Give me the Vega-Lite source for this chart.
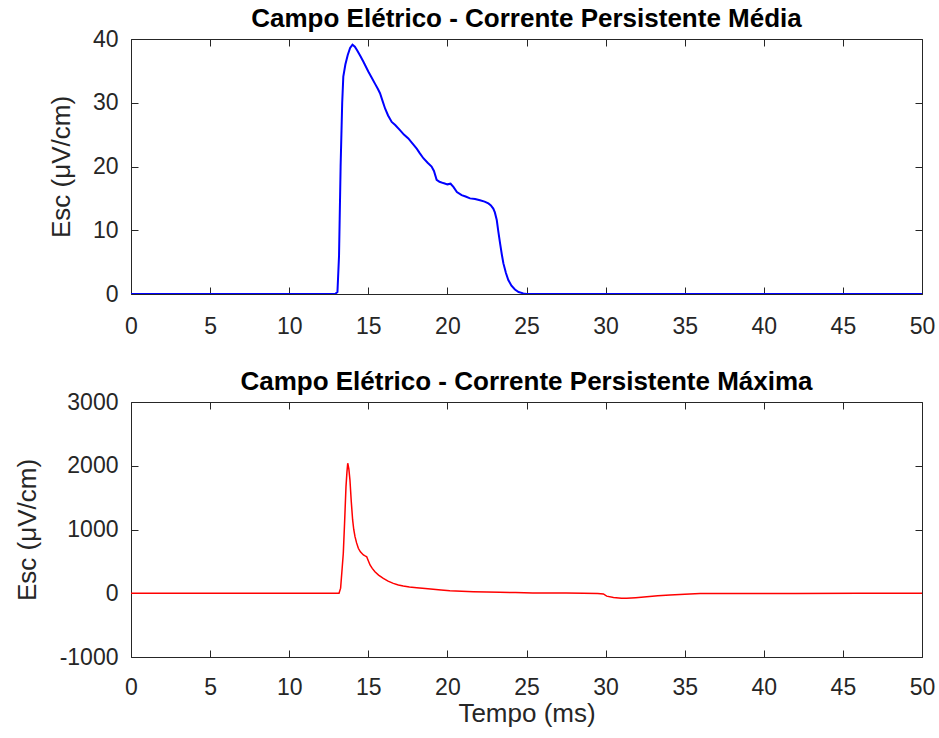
{
  "$schema": "https://vega.github.io/schema/vega-lite/v6.json",
  "background": "white",
  "padding": {"left": 13, "top": 5, "right": 5, "bottom": 5},
  "spacing": 108,
  "bounds": "flush",
  "config": {
    "font": "Liberation Sans",
    "view": {"stroke": "#262626", "strokeWidth": 1},
    "axis": {
      "grid": false,
      "domain": false,
      "labelFont": "Liberation Sans",
      "titleFont": "Liberation Sans",
      "labelFontSize": 23,
      "titleFontSize": 26,
      "titleFontWeight": "normal",
      "labelColor": "#262626",
      "titleColor": "#262626",
      "tickColor": "#262626",
      "tickSize": -7,
      "labelFlush": false,
      "labelOverlap": false,
      "labelExpr": "'' + datum.value"
    },
    "title": {"font": "Liberation Sans", "fontSize": 26, "fontWeight": "bold", "color": "#000000", "anchor": "middle", "offset": -4}
  },
  "datasets": {
    "media": [
      {"t": 0, "e": 0}, {"t": 5, "e": 0}, {"t": 10, "e": 0}, {"t": 12.9, "e": 0}, {"t": 13.05, "e": 0.3}, {"t": 13.15, "e": 6},
      {"t": 13.25, "e": 20}, {"t": 13.35, "e": 30}, {"t": 13.42, "e": 34.1}, {"t": 13.55, "e": 36}, {"t": 13.7, "e": 37.5},
      {"t": 13.85, "e": 38.6}, {"t": 14.0, "e": 39.1}, {"t": 14.15, "e": 38.8}, {"t": 14.3, "e": 38.2}, {"t": 14.48, "e": 37.4},
      {"t": 14.7, "e": 36.4}, {"t": 15.0, "e": 34.9}, {"t": 15.2, "e": 34.0}, {"t": 15.42, "e": 33.0}, {"t": 15.6, "e": 32.2},
      {"t": 15.74, "e": 31.5}, {"t": 15.9, "e": 30.3}, {"t": 16.06, "e": 29.1}, {"t": 16.25, "e": 28.0}, {"t": 16.48, "e": 27.0},
      {"t": 16.7, "e": 26.5}, {"t": 17.0, "e": 25.7}, {"t": 17.25, "e": 25.0}, {"t": 17.53, "e": 24.4}, {"t": 17.8, "e": 23.6},
      {"t": 18.06, "e": 22.8}, {"t": 18.25, "e": 22.1}, {"t": 18.48, "e": 21.3}, {"t": 18.75, "e": 20.6}, {"t": 19.0, "e": 20.0},
      {"t": 19.15, "e": 19.3}, {"t": 19.32, "e": 17.9}, {"t": 19.5, "e": 17.6}, {"t": 19.74, "e": 17.4}, {"t": 20.0, "e": 17.2},
      {"t": 20.2, "e": 17.3}, {"t": 20.38, "e": 16.8}, {"t": 20.6, "e": 16.0}, {"t": 20.9, "e": 15.5}, {"t": 21.15, "e": 15.3},
      {"t": 21.43, "e": 15.0}, {"t": 21.75, "e": 14.9}, {"t": 22.06, "e": 14.7}, {"t": 22.35, "e": 14.5}, {"t": 22.59, "e": 14.2},
      {"t": 22.75, "e": 13.9}, {"t": 22.9, "e": 13.4}, {"t": 23.0, "e": 12.8}, {"t": 23.12, "e": 11.6}, {"t": 23.22, "e": 9.8},
      {"t": 23.33, "e": 7.95}, {"t": 23.44, "e": 6.2}, {"t": 23.54, "e": 4.8}, {"t": 23.7, "e": 3.3}, {"t": 23.85, "e": 2.2},
      {"t": 24.05, "e": 1.3}, {"t": 24.27, "e": 0.7}, {"t": 24.5, "e": 0.3}, {"t": 24.8, "e": 0.1}, {"t": 25, "e": 0},
      {"t": 30, "e": 0}, {"t": 40, "e": 0}, {"t": 50, "e": 0}
    ],
    "maxima": [
      {"t": 0, "e": 0}, {"t": 5, "e": 0}, {"t": 10, "e": 0}, {"t": 13.15, "e": 0}, {"t": 13.25, "e": 80}, {"t": 13.35, "e": 400},
      {"t": 13.42, "e": 627}, {"t": 13.5, "e": 1100}, {"t": 13.59, "e": 1672}, {"t": 13.65, "e": 1900}, {"t": 13.7, "e": 2039},
      {"t": 13.77, "e": 1950}, {"t": 13.84, "e": 1777}, {"t": 13.92, "e": 1450}, {"t": 14.01, "e": 1150}, {"t": 14.08, "e": 1000},
      {"t": 14.16, "e": 888}, {"t": 14.26, "e": 790}, {"t": 14.37, "e": 705}, {"t": 14.5, "e": 650}, {"t": 14.69, "e": 600},
      {"t": 14.8, "e": 585}, {"t": 14.9, "e": 573}, {"t": 15.0, "e": 510}, {"t": 15.11, "e": 443}, {"t": 15.25, "e": 390},
      {"t": 15.42, "e": 338}, {"t": 15.65, "e": 285}, {"t": 15.95, "e": 234}, {"t": 16.25, "e": 190}, {"t": 16.58, "e": 155},
      {"t": 16.9, "e": 130}, {"t": 17.21, "e": 113}, {"t": 17.6, "e": 98}, {"t": 18.06, "e": 87}, {"t": 18.6, "e": 73},
      {"t": 19.1, "e": 61}, {"t": 19.6, "e": 50}, {"t": 20.16, "e": 40}, {"t": 20.9, "e": 32}, {"t": 21.64, "e": 25},
      {"t": 22.5, "e": 20}, {"t": 23.3, "e": 15}, {"t": 24.3, "e": 10}, {"t": 25.4, "e": 5}, {"t": 26.5, "e": 3},
      {"t": 27.5, "e": 2}, {"t": 28.6, "e": 0}, {"t": 29.5, "e": -5}, {"t": 29.86, "e": -10}, {"t": 30.07, "e": -45},
      {"t": 30.5, "e": -65}, {"t": 31.0, "e": -78}, {"t": 31.33, "e": -80}, {"t": 31.9, "e": -70}, {"t": 32.6, "e": -55},
      {"t": 33.3, "e": -40}, {"t": 34.07, "e": -27}, {"t": 35.0, "e": -15}, {"t": 35.97, "e": -5}, {"t": 38, "e": -3},
      {"t": 42, "e": -2}, {"t": 46, "e": 0}, {"t": 50, "e": 0}
    ]
  },
  "vconcat": [
    {
      "width": 791,
      "height": 255,
      "title": {"text": "Campo Elétrico - Corrente Persistente Média"},
      "data": {"name": "media"},
      "layer": [
        {
          "mark": {"type": "line", "color": "#0000ff", "strokeWidth": 2, "clip": true},
          "encoding": {
            "x": {"field": "t", "type": "quantitative", "scale": {"domain": [0, 50], "nice": false},
                  "axis": {"values": [0, 5, 10, 15, 20, 25, 30, 35, 40, 45, 50], "title": null, "labelPadding": 28}},
            "y": {"field": "e", "type": "quantitative", "scale": {"domain": [0, 40], "nice": false},
                  "axis": {"values": [0, 10, 20, 30, 40], "title": "Esc (μV/cm)", "labelPadding": 20, "titlePadding": 18}}
          }
        },
        {
          "mark": {"type": "line", "opacity": 0},
          "encoding": {
            "x": {"field": "t", "type": "quantitative", "axis": {"orient": "top", "values": [0, 5, 10, 15, 20, 25, 30, 35, 40, 45, 50], "labels": false, "title": null}},
            "y": {"field": "e", "type": "quantitative", "axis": {"orient": "right", "values": [0, 10, 20, 30, 40], "labels": false, "title": null}}
          }
        }
      ],
      "resolve": {"axis": {"x": "independent", "y": "independent"}}
    },
    {
      "width": 791,
      "height": 255,
      "title": {"text": "Campo Elétrico - Corrente Persistente Máxima"},
      "data": {"name": "maxima"},
      "layer": [
        {
          "mark": {"type": "line", "color": "#ff0000", "strokeWidth": 1.5, "clip": true},
          "encoding": {
            "x": {"field": "t", "type": "quantitative", "scale": {"domain": [0, 50], "nice": false},
                  "axis": {"values": [0, 5, 10, 15, 20, 25, 30, 35, 40, 45, 50], "title": "Tempo (ms)", "labelPadding": 26, "titlePadding": 1}},
            "y": {"field": "e", "type": "quantitative", "scale": {"domain": [-1000, 3000], "nice": false},
                  "axis": {"values": [-1000, 0, 1000, 2000, 3000], "title": "Esc (μV/cm)", "labelPadding": 20, "titlePadding": 19}}
          }
        },
        {
          "mark": {"type": "line", "opacity": 0},
          "encoding": {
            "x": {"field": "t", "type": "quantitative", "axis": {"orient": "top", "values": [0, 5, 10, 15, 20, 25, 30, 35, 40, 45, 50], "labels": false, "title": null}},
            "y": {"field": "e", "type": "quantitative", "axis": {"orient": "right", "values": [-1000, 0, 1000, 2000, 3000], "labels": false, "title": null}}
          }
        }
      ],
      "resolve": {"axis": {"x": "independent", "y": "independent"}}
    }
  ]
}
